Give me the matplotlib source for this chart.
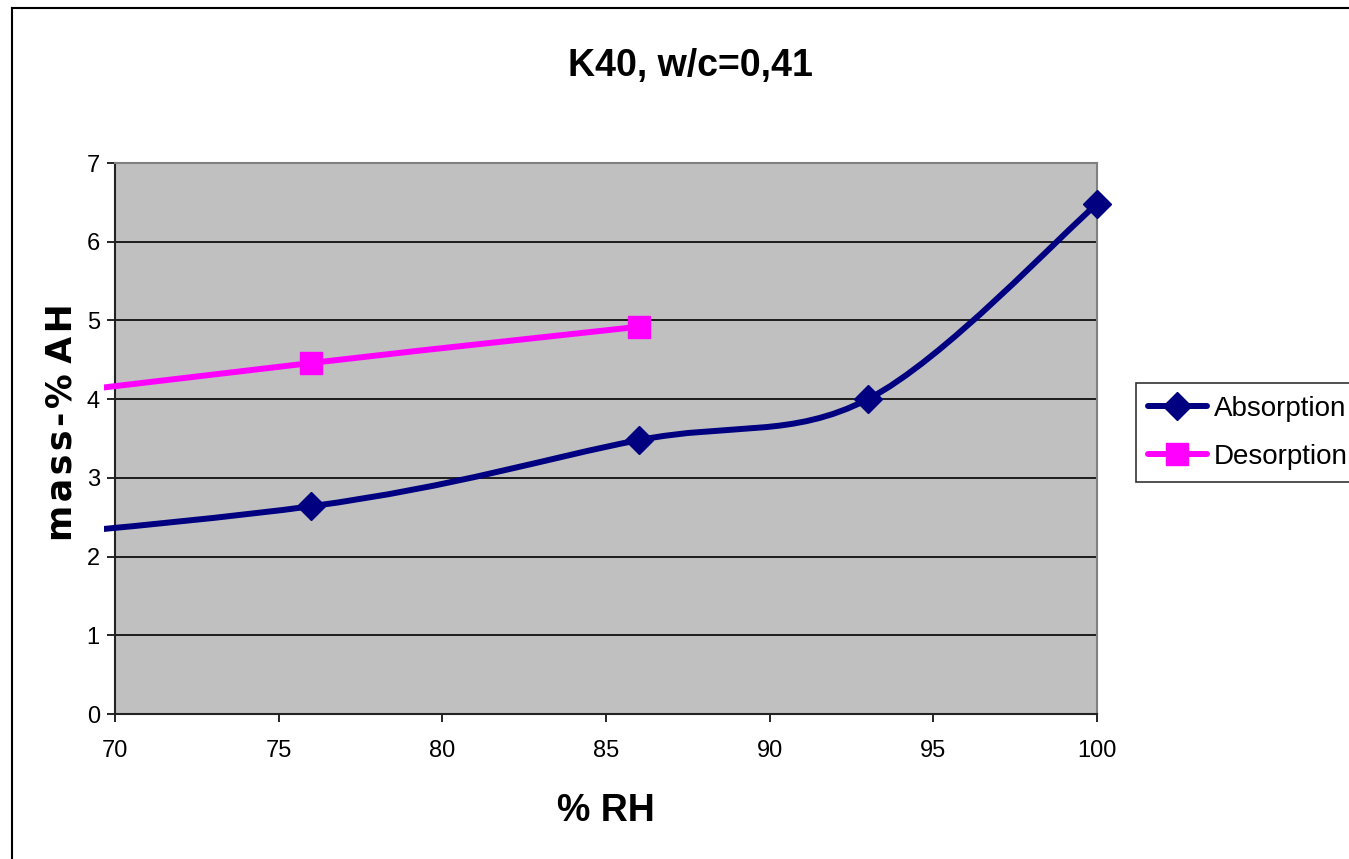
import matplotlib
matplotlib.use('Agg')
import matplotlib.pyplot as plt
import numpy as np
from matplotlib.path import Path
from matplotlib.patches import PathPatch, Rectangle
from matplotlib.lines import Line2D

# sorption isotherm data, K40 concrete, w/c = 0.41
rh_abs = [59, 76, 86, 93, 100]
mass_abs = [1.95, 2.64, 3.48, 4.0, 6.48]
rh_des = [59, 76, 86]
mass_des = [3.62, 4.46, 4.92]

plt.rcParams['font.family'] = ['Liberation Sans', 'DejaVu Sans']


def smooth_path(xs, ys):
    """Catmull-Rom style smoothing expressed as cubic Bezier segments."""
    pts = np.column_stack([xs, ys]).astype(float)
    verts = [pts[0]]
    codes = [Path.MOVETO]
    n = len(pts)
    for i in range(n - 1):
        p0 = pts[max(i - 1, 0)]
        p1 = pts[i]
        p2 = pts[i + 1]
        p3 = pts[min(i + 2, n - 1)]
        c1 = p1 + (p2 - p0) / 6.0
        c2 = p2 - (p3 - p1) / 6.0
        verts += [c1, c2, p2]
        codes += [Path.CURVE4] * 3
    return Path(verts, codes)


fig = plt.figure(figsize=(13.49, 8.59), dpi=100)
ax = fig.add_axes([0.0853, 0.1688, 0.7279, 0.6414])
ax.set_facecolor('#C0C0C0')

# lines may run slightly past the left edge of the plot area
clip = Rectangle((-0.011, 0), 1.03, 1, transform=ax.transAxes, visible=False)
ax.add_patch(clip)

series = [
    (rh_abs, mass_abs, '#000080', 'D', 14, 'Absorption'),
    (rh_des, mass_des, '#FF00FF', 's', 16, 'Desorption'),
]
handles = []
for xs, ys, col, mk, ms, lab in series:
    patch = PathPatch(smooth_path(xs, ys), facecolor='none', edgecolor=col,
                      lw=4.3, capstyle='round', joinstyle='round', zorder=3)
    ax.add_patch(patch)
    patch.set_clip_path(clip)
    vis = [(x, y) for x, y in zip(xs, ys) if x >= 70]
    ax.plot([v[0] for v in vis], [v[1] for v in vis], ls='none', marker=mk,
            ms=ms, color=col, mec=col, zorder=4, clip_on=False)
    handles.append(Line2D([], [], color=col, lw=4.3, marker=mk, ms=ms, mec=col,
                          solid_capstyle='round'))

ax.set_xlim(70, 100)
ax.set_ylim(0, 7)
ax.set_xticks(np.arange(70, 101, 5))
ax.set_yticks(np.arange(0, 8, 1))
ax.yaxis.grid(True, color='black', lw=1.2)
ax.set_axisbelow(True)
ax.tick_params(axis='x', direction='out', length=6, width=1.2, pad=13,
               labelsize=17)
ax.tick_params(axis='y', direction='out', length=6, width=1.2, pad=5,
               labelsize=17)
for s in ['left', 'bottom']:
    ax.spines[s].set_color('#222222')
    ax.spines[s].set_linewidth(1.5)
for s in ['top', 'right']:
    ax.spines[s].set_color('#808080')
    ax.spines[s].set_linewidth(1.5)

fig.text(690 / 1349, 1 - 66 / 859, 'K40, w/c=0,41', fontsize=27,
         fontweight='bold', ha='center', va='center')
ax.set_xlabel('% RH', fontsize=27, fontweight='bold', labelpad=22)
ax.set_ylabel('m\u200aa\u200as\u200as\u200a-\u200a%\u2009\u200aA\u200aH',
              fontsize=25, fontweight='bold', family='DejaVu Sans')
ax.yaxis.set_label_coords(-0.037, 0.53)

leg = ax.legend(handles, ['Absorption', 'Desorption'], loc='upper left',
                bbox_to_anchor=(1.0395, 0.6005), fontsize=20, frameon=True,
                fancybox=False, edgecolor='black', handlelength=2.1,
                handletextpad=0.25, borderpad=0.45, labelspacing=0.8,
                borderaxespad=0)
leg.get_frame().set_linewidth(1.2)

# outer chart frame
fig.add_artist(Line2D([12 / 1349, 12 / 1349], [0, 1 - 8 / 859],
                      transform=fig.transFigure, color='black', lw=1.5))
fig.add_artist(Line2D([12 / 1349, 1], [1 - 8 / 859, 1 - 8 / 859],
                      transform=fig.transFigure, color='black', lw=1.5))

fig.savefig('out.png', dpi=100, facecolor='white')
